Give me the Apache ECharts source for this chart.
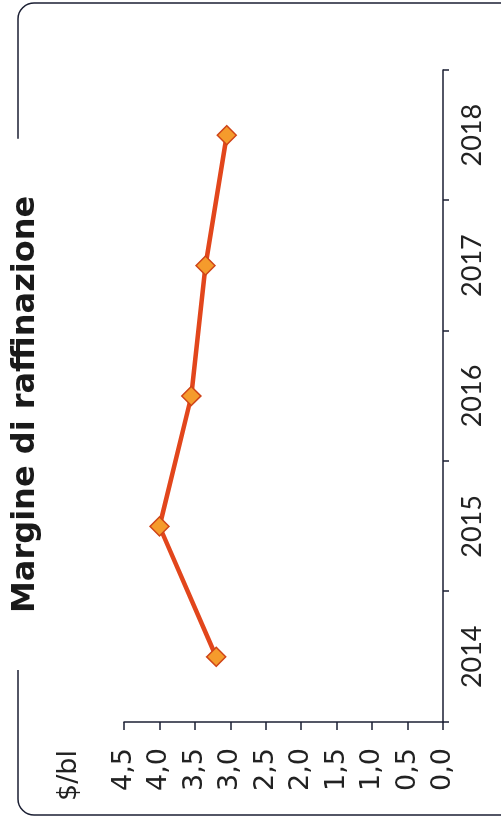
<!DOCTYPE html>
<html>
<head>
<meta charset="utf-8">
<script src="https://cdn.jsdelivr.net/npm/echarts@6/dist/echarts.min.js"></script>
<style>
  html, body { margin: 0; padding: 0; background: #ffffff; overflow: hidden; width: 501px; height: 823px; }
  #chart {
    position: absolute; left: 0; top: 0;
    width: 823px; height: 501px;
    transform-origin: 0 0;
    transform: translateY(823px) rotate(-90deg);
  }
</style>
</head>
<body>
<div id="chart"></div>
<script>
const titleText = 'Margine di raffinazione';
const unitLabel = '$/bl';
const years = ['2014', '2015', '2016', '2017', '2018'];
const margins = [3.2, 4.0, 3.55, 3.35, 3.05];
const valueMin = 0;
const valueMax = 4.5;
const valueStep = 0.5;

const axisColor = '#1b1f33';
const chart = echarts.init(document.getElementById('chart'), null, { renderer: 'canvas' });

chart.setOption({
  backgroundColor: '#ffffff',
  animation: false,
  graphic: [{
    type: 'rect',
    z: 0,
    shape: { x: 8, y: 18, width: 812, height: 540, r: 16 },
    style: { fill: 'none', stroke: axisColor, lineWidth: 1.5 }
  }],
  title: {
    text: titleText,
    left: 153,
    top: 4,
    padding: [6, 57, 6, 57],
    backgroundColor: '#ffffff',
    z: 10,
    textStyle: {
      fontFamily: 'DejaVu Sans',
      fontWeight: 'bold',
      fontSize: 32,
      color: '#1a1a1a'
    }
  },
  grid: { left: 101, right: 70, top: 124, bottom: 58, containLabel: false },
  xAxis: {
    type: 'category',
    data: years,
    boundaryGap: true,
    axisLine: { show: true, lineStyle: { color: axisColor, width: 1.5 } },
    axisTick: { show: true, inside: false, length: 6, alignWithLabel: false, lineStyle: { color: axisColor, width: 1.5 } },
    axisLabel: {
      margin: 16,
      fontFamily: 'Lato',
      fontSize: 27,
      color: '#222222',
      interval: 0
    },
    splitLine: { show: false }
  },
  yAxis: {
    type: 'value',
    min: valueMin,
    max: valueMax,
    interval: valueStep,
    name: unitLabel,
    nameLocation: 'end',
    nameGap: 42,
    nameTextStyle: {
      fontFamily: 'DejaVu Sans',
      fontSize: 27,
      color: '#222222',
      align: 'right',
      verticalAlign: 'bottom',
      padding: [0, 28, 0, 0]
    },
    axisLine: { show: true, lineStyle: { color: axisColor, width: 1.5 } },
    axisTick: { show: true, inside: false, length: 8, lineStyle: { color: axisColor, width: 1.5 } },
    axisLabel: {
      margin: 26,
      fontFamily: 'DejaVu Sans',
      fontSize: 27,
      color: '#222222',
      formatter: v => v.toFixed(1).replace('.', ',')
    },
    splitLine: { show: false }
  },
  series: [{
    type: 'line',
    data: margins,
    symbol: 'diamond',
    symbolSize: 19,
    lineStyle: { color: '#e2461c', width: 4.5 },
    itemStyle: { color: '#f59b2c', borderColor: '#cf4418', borderWidth: 1.5 },
    z: 5
  }]
});
</script>
</body>
</html>
